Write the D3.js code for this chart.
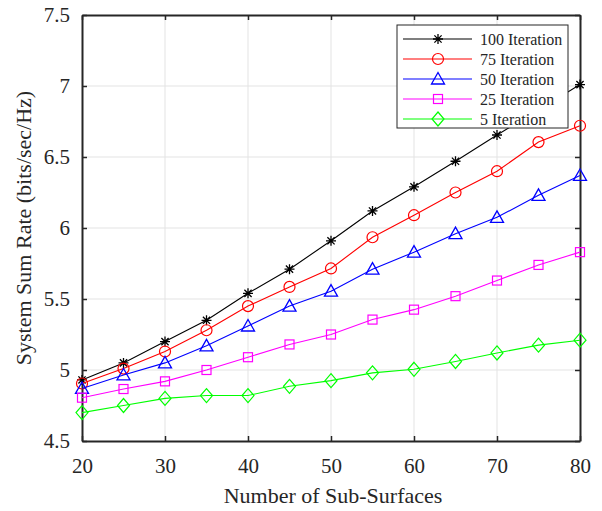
<!DOCTYPE html>
<html>
<head>
<meta charset="utf-8">
<script src="https://cdn.jsdelivr.net/npm/d3@7"></script>
<style>
  html, body { margin: 0; padding: 0; background: #fff; }
  svg { display: block; }
  text { font-family: "Liberation Serif", "Times New Roman", serif; fill: #262626; }
</style>
</head>
<body>
<svg id="chart" width="602" height="511"></svg>
<script>
// Number of sub-surfaces on the x axis
const subSurfaces = [20, 25, 30, 35, 40, 45, 50, 55, 60, 65, 70, 75, 80];

// System sum rate (bits/sec/Hz) per iteration count
const iter100 = [4.93, 5.05, 5.20, 5.35, 5.54, 5.71, 5.91, 6.12, 6.29, 6.47, 6.655, 6.83, 7.01];
const iter75  = [4.905, 5.01, 5.13, 5.28, 5.45, 5.585, 5.715, 5.935, 6.09, 6.25, 6.40, 6.605, 6.72];
const iter50  = [4.87, 4.965, 5.05, 5.17, 5.31, 5.45, 5.555, 5.71, 5.83, 5.96, 6.075, 6.23, 6.37];
const iter25  = [4.805, 4.866, 4.92, 5.00, 5.09, 5.18, 5.25, 5.355, 5.425, 5.52, 5.63, 5.74, 5.83];
const iter5   = [4.70, 4.75, 4.80, 4.82, 4.82, 4.885, 4.925, 4.98, 5.005, 5.06, 5.12, 5.175, 5.21];

const seriesNames = ["100 Iteration", "75 Iteration", "50 Iteration", "25 Iteration", "5 Iteration"];
const xTicks = [20, 30, 40, 50, 60, 70, 80];
const yTicks = [4.5, 5, 5.5, 6, 6.5, 7, 7.5];

const series = [
  { name: seriesNames[0], values: iter100, color: "#000000", marker: "star" },
  { name: seriesNames[1], values: iter75,  color: "#ff0000", marker: "circle" },
  { name: seriesNames[2], values: iter50,  color: "#0000ff", marker: "triangle" },
  { name: seriesNames[3], values: iter25,  color: "#ff00ff", marker: "square" },
  { name: seriesNames[4], values: iter5,   color: "#00ff00", marker: "diamond" }
];

const svg = d3.select("#chart");
const plot = { left: 82, right: 580, top: 15, bottom: 441 };

const x = d3.scaleLinear().domain([20, 80]).range([plot.left, plot.right]);
const y = d3.scaleLinear().domain([4.5, 7.5]).range([plot.bottom, plot.top]);

// Grid lines
const grid = svg.append("g");
grid.selectAll("line.gx").data(xTicks.slice(1, -1)).join("line")
  .attr("x1", d => x(d)).attr("x2", d => x(d))
  .attr("y1", plot.top).attr("y2", plot.bottom)
  .attr("stroke", "#e3e3e3").attr("stroke-width", 1);
grid.selectAll("line.gy").data(yTicks.slice(1, -1)).join("line")
  .attr("x1", plot.left).attr("x2", plot.right)
  .attr("y1", d => y(d)).attr("y2", d => y(d))
  .attr("stroke", "#e3e3e3").attr("stroke-width", 1);

// Axes with inward ticks on all four sides
const tickLen = 5;
const axisColor = "#262626";
const xAxisB = d3.axisBottom(x).tickValues(xTicks).tickSizeInner(-tickLen).tickSizeOuter(0).tickPadding(17).tickFormat(d3.format("d"));
const xAxisT = d3.axisTop(x).tickValues(xTicks).tickSizeInner(-tickLen).tickSizeOuter(0).tickFormat("");
const yAxisL = d3.axisLeft(y).tickValues(yTicks).tickSizeInner(-tickLen).tickSizeOuter(0).tickPadding(12).tickFormat(d => d3.format("")(d));
const yAxisR = d3.axisRight(y).tickValues(yTicks).tickSizeInner(-tickLen).tickSizeOuter(0).tickFormat("");

function styleAxis(g) {
  g.select(".domain").attr("stroke", axisColor).attr("stroke-width", 2);
  g.selectAll(".tick line").attr("stroke", axisColor).attr("stroke-width", 1.5);
  g.selectAll(".tick text").attr("fill", axisColor)
    .style("font-family", "'Liberation Serif', 'Times New Roman', serif")
    .style("font-size", "21px");
}

svg.append("g").attr("transform", `translate(0,${plot.bottom})`).call(xAxisB).call(styleAxis);
svg.append("g").attr("transform", `translate(0,${plot.top})`).call(xAxisT).call(styleAxis);
svg.append("g").attr("transform", `translate(${plot.left},0)`).call(yAxisL).call(styleAxis);
svg.append("g").attr("transform", `translate(${plot.right},0)`).call(yAxisR).call(styleAxis);

// Axis titles
svg.append("text")
  .attr("x", (plot.left + plot.right) / 2 + 2).attr("y", 503)
  .attr("text-anchor", "middle").style("font-size", "22px")
  .text("Number of Sub-Surfaces");
svg.append("text")
  .attr("transform", `translate(31,${(plot.top + plot.bottom) / 2}) rotate(-90)`)
  .attr("text-anchor", "middle").style("font-size", "22px")
  .text("System Sum Rate (bits/sec/Hz)");

// Marker drawing
function drawMarker(g, type, color) {
  if (type === "star") {
    const r = 5;
    const d = r * 0.72;
    g.append("path")
      .attr("d", `M${-r},0L${r},0M0,${-r}L0,${r}M${-d},${-d}L${d},${d}M${-d},${d}L${d},${-d}`)
      .attr("stroke", color).attr("stroke-width", 1.3).attr("fill", "none");
  } else if (type === "circle") {
    g.append("circle").attr("r", 5.5)
      .attr("stroke", color).attr("stroke-width", 1.2).attr("fill", "none");
  } else if (type === "triangle") {
    g.append("path").attr("d", "M0,-6.5L6.5,5L-6.5,5Z")
      .attr("stroke", color).attr("stroke-width", 1.3).attr("fill", "none");
  } else if (type === "square") {
    g.append("rect").attr("x", -4.5).attr("y", -4.5).attr("width", 9).attr("height", 9)
      .attr("stroke", color).attr("stroke-width", 1.2).attr("fill", "none");
  } else if (type === "diamond") {
    g.append("path").attr("d", "M0,-7L6,0L0,7L-6,0Z")
      .attr("stroke", color).attr("stroke-width", 1.2).attr("fill", "none");
  }
}

const line = d3.line().x((d, i) => x(subSurfaces[i])).y(d => y(d));

const lines = svg.append("g");
series.forEach(s => {
  lines.append("path").datum(s.values)
    .attr("d", line).attr("fill", "none")
    .attr("stroke", s.color).attr("stroke-width", 1.1);
  s.values.forEach((v, i) => {
    const g = lines.append("g").attr("transform", `translate(${x(subSurfaces[i])},${y(v)})`);
    drawMarker(g, s.marker, s.color);
  });
});

// Legend
const legend = svg.append("g");
legend.append("rect")
  .attr("x", 397).attr("y", 25).attr("width", 171).attr("height", 103)
  .attr("fill", "#fff").attr("stroke", "#262626").attr("stroke-width", 1);
series.forEach((s, i) => {
  const ly = 39 + i * 20;
  legend.append("line").attr("x1", 403).attr("x2", 472).attr("y1", ly).attr("y2", ly)
    .attr("stroke", s.color).attr("stroke-width", 1.1);
  drawMarker(legend.append("g").attr("transform", `translate(438,${ly})`), s.marker, s.color);
  legend.append("text").attr("x", 480).attr("y", ly + 5.5)
    .style("font-size", "16px").attr("fill", "#000")
    .text(s.name);
});
</script>
</body>
</html>
